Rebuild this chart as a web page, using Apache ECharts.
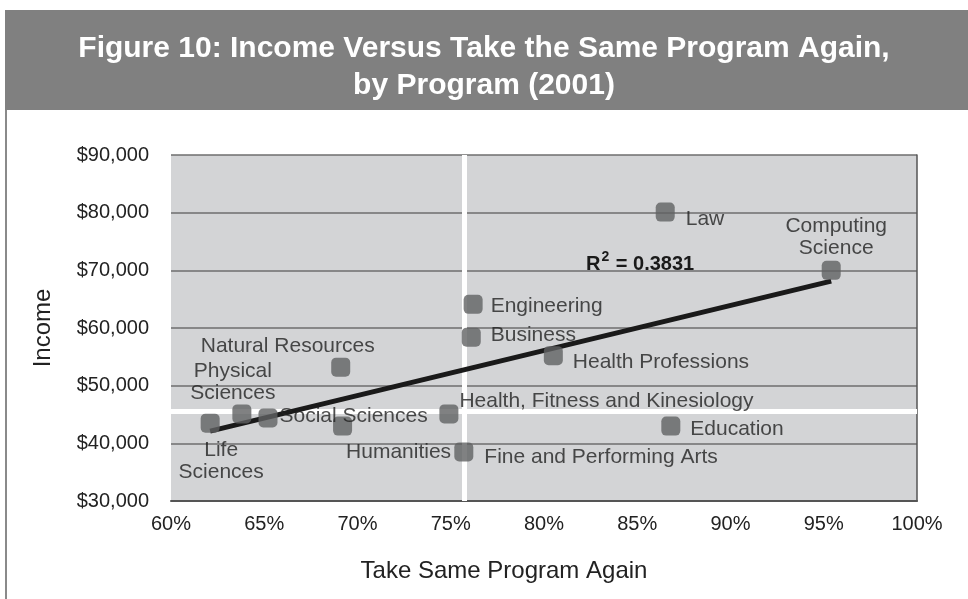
<!DOCTYPE html>
<html>
<head>
<meta charset="utf-8">
<script src="https://cdn.jsdelivr.net/npm/echarts@6/dist/echarts.min.js"></script>
<style>
html, body { margin: 0; padding: 0; background: #fff; }
#chart { width: 968px; height: 599px; }
</style>
</head>
<body>
<div id="chart"></div>
<script>
// programs and their survey values
const programs = ["Life Sciences", "Physical Sciences", "Social Sciences", "Natural Resources",
    "Humanities", "Health, Fitness and Kinesiology", "Fine and Performing Arts", "Business",
    "Engineering", "Health Professions", "Law", "Education", "Computing Science"];
const takeAgain = [62.1, 63.8, 65.2, 69.1, 69.2, 74.9, 75.7, 76.1, 76.2, 80.5, 86.5, 86.8, 95.4];
const income = [43500, 45100, 44400, 53200, 43000, 45100, 38500, 58400, 64100, 55200, 80100, 43000, 70000];
const refX = 75.7;
const refY = 45600;
const xTicks = [60, 65, 70, 75, 80, 85, 90, 95, 100];
const yTicks = [30000, 40000, 50000, 60000, 70000, 80000, 90000];

// where each label sits next to its point
const labelPos = {
    "Life Sciences": { text: "Life\nSciences", position: "bottom", offset: [11, 2] },
    "Physical Sciences": { text: "Physical\nSciences", position: "top", offset: [-9, 5] },
    "Social Sciences": { position: "right", distance: 2, offset: [0, -2] },
    "Natural Resources": { position: "top", offset: [-53, 4] },
    "Humanities": { position: "right", offset: [-11, 26] },
    "Health, Fitness and Kinesiology": { position: "right", offset: [-4, -13] },
    "Fine and Performing Arts": { position: "right", distance: 11, offset: [0, 5] },
    "Business": { position: "right", distance: 10, offset: [0, -2] },
    "Engineering": { position: "right", distance: 8, offset: [0, 2] },
    "Health Professions": { position: "right", distance: 10, offset: [0, 7] },
    "Law": { position: "right", distance: 11, offset: [0, 7] },
    "Education": { position: "right", distance: 10, offset: [0, 3] },
    "Computing Science": { text: "Computing\nScience", position: "top", offset: [5, 3] }
};

// least squares trend line
let n = takeAgain.length, sx = 0, sy = 0, sxy = 0, sxx = 0;
for (let i = 0; i < n; i++) {
    sx += takeAgain[i]; sy += income[i];
    sxy += takeAgain[i] * income[i]; sxx += takeAgain[i] * takeAgain[i];
}
const slope = (n * sxy - sx * sy) / (n * sxx - sx * sx);
const icpt = (sy - slope * sx) / n;
const xMin = Math.min(...takeAgain), xMax = Math.max(...takeAgain);
const trend = [[xMin, icpt + slope * xMin], [xMax, icpt + slope * xMax]];

const points = programs.map((p, i) => {
    const lp = labelPos[p];
    return {
        name: p,
        value: [takeAgain[i], income[i]],
        label: {
            show: true,
            formatter: lp.text || p,
            position: lp.position,
            distance: lp.distance != null ? lp.distance : 5,
            offset: lp.offset,
            align: lp.position === "right" ? "left" : "center",
            lineHeight: 22
        }
    };
});

const font = "Liberation Sans, Arial, Helvetica, sans-serif";
const chart = echarts.init(document.getElementById("chart"));
chart.setOption({
    animation: false,
    textStyle: { fontFamily: font },
    title: {
        text: "Figure 10: Income Versus Take the Same Program Again,\nby Program (2001)",
        left: "center",
        top: 25,
        textStyle: { color: "#fff", fontSize: 30, fontWeight: "bold", lineHeight: 37, fontFamily: font }
    },
    graphic: [
        { type: "rect", left: 5, top: 10, shape: { width: 963, height: 100 }, style: { fill: "#808080" }, z: -10 },
        { type: "rect", left: 5, top: 110, shape: { width: 2, height: 489 }, style: { fill: "#8a8a8a" }, z: -10 },
        {
            type: "text", left: 586, top: 250, z: 10,
            style: {
                text: "{a|R}{s|2}{a| = 0.3831}",
                fill: "#1a1a1a", fontFamily: font,
                rich: {
                    a: { fontSize: 20, fontWeight: "bold", lineHeight: 24, verticalAlign: "bottom" },
                    s: { fontSize: 14, fontWeight: "bold", lineHeight: 24, verticalAlign: "top", padding: [0, 1, 8, 1] }
                }
            }
        }
    ],
    grid: {
        left: 171, right: 51, top: 155, bottom: 98,
        show: true, backgroundColor: "#d3d4d6", borderWidth: 0
    },
    xAxis: {
        type: "value",
        min: xTicks[0], max: xTicks[xTicks.length - 1], interval: 5,
        name: "Take Same Program Again",
        nameLocation: "middle", nameGap: 58,
        nameTextStyle: { fontSize: 24, color: "#222", padding: [0, 80, 0, 0] },
        axisLine: { show: true, lineStyle: { color: "#555", width: 2 } },
        axisTick: { show: false },
        splitLine: { show: false },
        axisLabel: { fontSize: 20, color: "#222", margin: 13, formatter: "{value}%" }
    },
    yAxis: [{
        type: "value",
        min: yTicks[0], max: yTicks[yTicks.length - 1], interval: 10000,
        name: "Income",
        nameLocation: "middle", nameGap: 116,
        nameTextStyle: { fontSize: 24, color: "#222" },
        axisLine: { show: false },
        axisTick: { show: false },
        splitLine: { lineStyle: { color: "#6e6e6e", width: 1.5 } },
        axisLabel: {
            fontSize: 20, color: "#222", margin: 22,
            formatter: v => "$" + v.toLocaleString("en-US")
        }
    }, {
        type: "value", position: "right",
        min: yTicks[0], max: yTicks[yTicks.length - 1], interval: 10000,
        axisLine: { show: true, lineStyle: { color: "#555", width: 1.5 } },
        axisTick: { show: false },
        axisLabel: { show: false },
        splitLine: { show: false }
    }],
    series: [
        {
            type: "line",
            data: trend,
            symbol: "none",
            z: 2,
            lineStyle: { color: "#1a1a1a", width: 5 },
            markLine: {
                silent: true, symbol: "none", z: 1,
                label: { show: false },
                lineStyle: { color: "#fff", width: 5, type: "solid" },
                data: [{ xAxis: refX }, { yAxis: refY }]
            }
        },
        {
            type: "scatter",
            data: points,
            z: 3,
            symbol: "roundRect",
            symbolSize: 19,
            itemStyle: { color: "#606163" },
            label: { fontSize: 21, color: "#222", fontFamily: font }
        }
    ]
});
</script>
</body>
</html>
